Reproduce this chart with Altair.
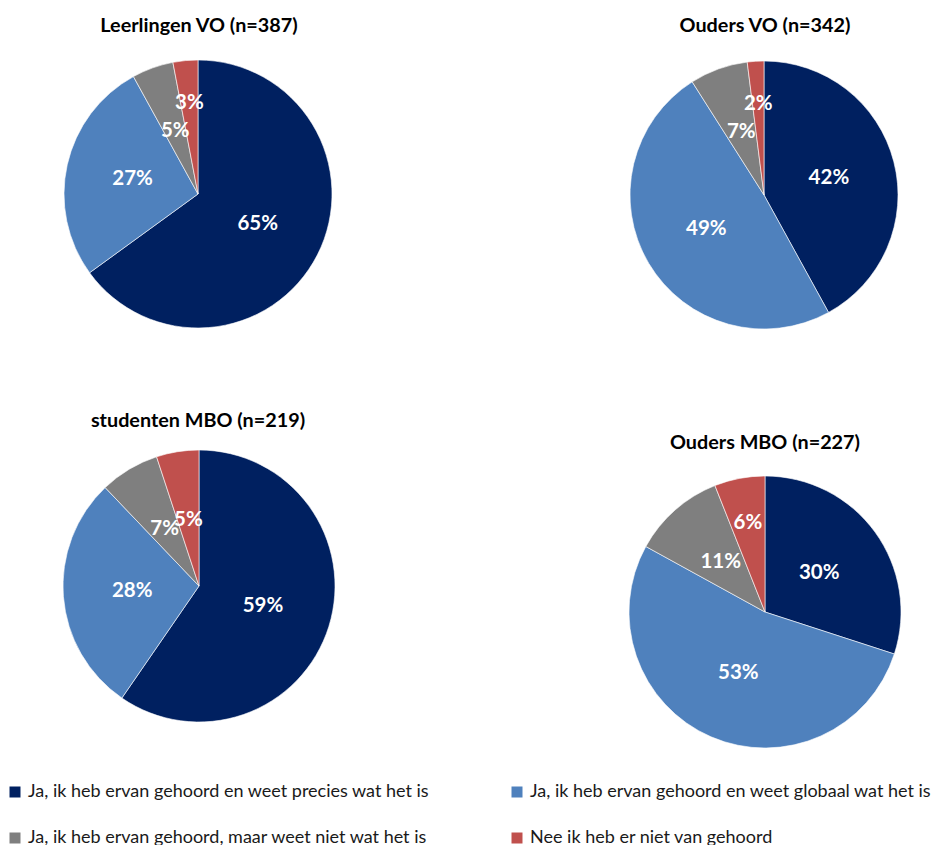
import altair as alt
import pandas as pd

CATEGORIES = [
    "Ja, ik heb ervan gehoord en weet precies wat het is",
    "Ja, ik heb ervan gehoord en weet globaal wat het is",
    "Ja, ik heb ervan gehoord, maar weet niet wat het is",
    "Nee ik heb er niet van gehoord",
]
COLORS = ["#002060", "#4F81BD", "#7F7F7F", "#C0504D"]

GROUPS = ["Leerlingen VO", "Ouders VO", "studenten MBO", "Ouders MBO"]
TITLES = ["Leerlingen VO (n=387)", "Ouders VO (n=342)", "studenten MBO (n=219)", "Ouders MBO (n=227)"]
VALUES = {
    "Leerlingen VO": [65, 27, 5, 3],
    "Ouders VO": [42, 49, 7, 2],
    "studenten MBO": [59, 28, 7, 5],
    "Ouders MBO": [30, 53, 11, 6],
}

# layout: pie centre (x, y), radius, title position (x, baseline y)
LAYOUT = {
    "Leerlingen VO": (190, 186, 134, 191, 24),
    "Ouders VO": (756, 187, 134, 757, 24),
    "studenten MBO": (191, 578, 136, 190, 418.5),
    "Ouders MBO": (757, 604, 136, 757, 441),
}
# labels that Excel placed further out (best fit)
OUTER = {("Leerlingen VO", 3), ("Ouders VO", 3), ("Ouders MBO", 3)}

rows = []
for g in GROUPS:
    for i, (c, v) in enumerate(zip(CATEGORIES, VALUES[g])):
        rows.append({
            "group": g, "cat": c, "idx": i, "value": v,
            "label": f"{v}%",
            "lab_r": 91 if (g, i) in OUTER else 67,
        })
df = pd.DataFrame(rows)

color = alt.Color(
    "cat:N",
    scale=alt.Scale(domain=CATEGORIES, range=COLORS),
    legend=alt.Legend(
        title=None, orient="none", legendX=-2, legendY=775, columns=2,
        direction="horizontal",
        symbolType="square", symbolSize=121, symbolStrokeWidth=0,
        labelFont="Lato", labelFontSize=18.0, labelColor="#1a1a1a",
        labelLimit=700, columnPadding=78, rowPadding=28, labelOffset=4,
    ),
)

layers = []
for g, t in zip(GROUPS, TITLES):
    cx, cy, r, tx, ty = LAYOUT[g]
    total = sum(VALUES[g])
    tscale = alt.Scale(domain=[0, total])
    base = alt.Chart(df[df.group == g]).transform_stack(
        stack="value", groupby=[], as_=["s0", "s1"],
        sort=[alt.SortField("idx", order="ascending")],
    ).transform_calculate(mid="(datum.s0 + datum.s1) / 2")
    arc = base.mark_arc(radius=r, stroke="white", strokeWidth=0.6).encode(
        theta=alt.Theta("s0:Q", scale=tscale),
        theta2="s1:Q",
        color=color,
        x=alt.value(cx), y=alt.value(cy),
    )
    txt = base.mark_text(
        font="Lato", fontSize=20.5, fontWeight="bold", color="white",
        align="center", baseline="middle",
    ).encode(
        theta=alt.Theta("mid:Q", scale=tscale),
        radius=alt.Radius("lab_r:Q", scale=None),
        text=alt.Text("label:N"),
        x=alt.value(cx), y=alt.value(cy),
    )
    title = alt.Chart(pd.DataFrame({"t": [t]})).mark_text(
        font="Lato", fontSize=19.8, fontWeight="bold", color="black",
        align="center", baseline="alphabetic",
    ).encode(text="t:N", x=alt.value(tx), y=alt.value(ty))
    layers.append(alt.layer(arc, txt, title))

chart = alt.layer(*layers).resolve_scale(theta="independent").properties(
    width=934, height=837, padding=0,
    autosize=alt.AutoSizeParams(type="none"),
).configure_view(strokeWidth=0)

chart.save("out.html", embed_options={"renderer": "svg", "actions": False})
